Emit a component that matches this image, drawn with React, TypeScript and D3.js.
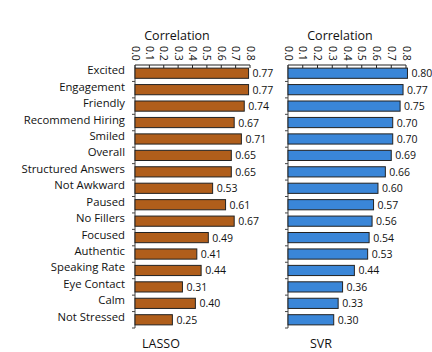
import React from "react";
import * as d3 from "d3";

const categories = [
  "Excited", "Engagement", "Friendly", "Recommend Hiring", "Smiled", "Overall",
  "Structured Answers", "Not Awkward", "Paused", "No Fillers", "Focused",
  "Authentic", "Speaking Rate", "Eye Contact", "Calm", "Not Stressed",
];
// bar lengths as drawn, and the printed labels next to them
const lassoBars = [0.79, 0.79, 0.76, 0.69, 0.74, 0.67, 0.67, 0.54, 0.63, 0.69, 0.51, 0.43, 0.46, 0.33, 0.42, 0.26];
const lassoLabels = ["0.77", "0.77", "0.74", "0.67", "0.71", "0.65", "0.65", "0.53", "0.61", "0.67", "0.49", "0.41", "0.44", "0.31", "0.40", "0.25"];
const svrBars = [0.81, 0.78, 0.76, 0.71, 0.71, 0.70, 0.66, 0.61, 0.58, 0.57, 0.55, 0.54, 0.45, 0.37, 0.34, 0.31];
const svrLabels = ["0.80", "0.77", "0.75", "0.70", "0.70", "0.69", "0.66", "0.60", "0.57", "0.56", "0.54", "0.53", "0.44", "0.36", "0.33", "0.30"];
const ticks = [0, 0.1, 0.2, 0.3, 0.4, 0.5, 0.6, 0.7, 0.8];

const font = "'Open Sans', 'DejaVu Sans', sans-serif";
const top = 65;
const bottom = 328;

const y = d3.scaleBand<string>()
  .domain(categories)
  .range([top, bottom])
  .paddingInner(0.38)
  .paddingOuter(0.19);
const step = y.step();

type PanelProps = {
  x0: number;
  x1: number;
  bars: number[];
  labels: string[];
  fill: string;
  name: string;
  nameX: number;
  titleX: number;
};

const Panel = ({ x0, x1, bars, labels, fill, name, nameX, titleX }: PanelProps) => {
  const x = d3.scaleLinear().domain([0, 0.8]).range([x0, x1]);
  return (
    <g>
      <text x={titleX} y={40} textAnchor="middle" fontSize={12.5} fill="#111">Correlation</text>
      {ticks.map((t) => (
        <g key={t}>
          <line x1={x(t)} x2={x(t)} y1={top} y2={top + 3} stroke="#222" />
          <text
            transform={`translate(${x(t) - 3.5},46) rotate(90)`}
            fontSize={10.5}
            fill="#111"
          >
            {t.toFixed(1)}
          </text>
        </g>
      ))}
      <line x1={x0} x2={x1} y1={top} y2={top} stroke="#222" />
      <line x1={x0} x2={x0} y1={top} y2={bottom} stroke="#444" />
      {categories.map((c, i) => (
        <line key={c} x1={x0 - 3} x2={x0} y1={top + (i + 1) * step} y2={top + (i + 1) * step} stroke="#444" />
      ))}
      {categories.map((c, i) => (
        <g key={c}>
          <rect
            x={x(0)}
            y={y(c)}
            width={x(bars[i]) - x(0)}
            height={y.bandwidth()}
            fill={fill}
            stroke="#222"
            strokeWidth={1}
          />
          <text
            x={x(bars[i]) + 4}
            y={(y(c) as number) + y.bandwidth() / 2 + 4}
            fontSize={10.5}
            fill="#111"
          >
            {labels[i]}
          </text>
        </g>
      ))}
      <text x={nameX} y={348} textAnchor="middle" fontSize={12.5} fill="#111">{name}</text>
    </g>
  );
};

export default function App() {
  return (
    <svg width={432} height={352} style={{ display: "block", position: "absolute", left: 0, top: 0, background: "#fff" }} fontFamily={font}>
      {categories.map((c) => (
        <text
          key={c}
          x={125}
          y={(y(c) as number) + y.bandwidth() / 2 + 1}
          textAnchor="end"
          fontSize={11.3}
          fill="#111"
        >
          {c}
        </text>
      ))}
      <Panel x0={135} x1={250} bars={lassoBars} labels={lassoLabels} fill="#B05E1B" name="LASSO" nameX={161} titleX={177} />
      <Panel x0={288} x1={406} bars={svrBars} labels={svrLabels} fill="#3A86D8" name="SVR" nameX={321} titleX={340} />
    </svg>
  );
}
